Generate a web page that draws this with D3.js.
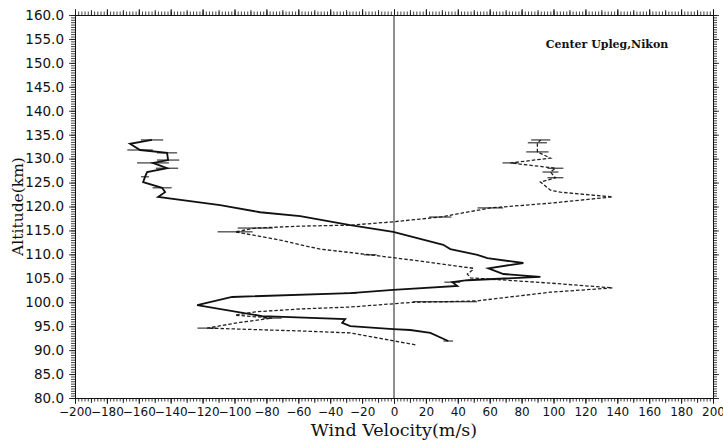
<!DOCTYPE html>
<html><head><meta charset="utf-8">
<script src="https://cdn.jsdelivr.net/npm/d3@7"></script>
<style>body{margin:0;background:#fff}svg{display:block}</style>
</head><body>
<svg id="c" width="723" height="441"></svg>
<script>
// ---- data ----
const xTickValues = d3.range(-200, 201, 20);
const yTickValues = d3.range(80, 160.01, 5);
const annotation = "Center Upleg,Nikon";
const xTitle = "Wind Velocity(m/s)";
const yTitle = "Altitude(km)";

// solid profile (bottom to top)
const solidAlt = [91.9,93.6,94.2,94.4,95.0,95.7,96.5,97.1,99.4,101.1,101.9,102.6,103.4,104.2,104.6,105.3,105.9,107.1,108.2,109.2,109.9,111.1,112.0,113.4,114.7,116.1,118.0,118.8,120.3,122.0,123.0,123.9,125.1,126.2,127.2,128.0,129.1,129.7,131.2,131.8,133.1,133.9];
const solidVel = [34,22.8,10.2,-0.5,-27.4,-32.5,-30.6,-82.7,-123.4,-101.5,-27.4,-0.5,39.7,36.6,46,91.8,68.6,59.2,81.1,58.5,52.3,35.3,30.9,14.6,-0.5,-27.4,-58.8,-83.9,-109,-147.9,-143.5,-145.4,-157.3,-156.1,-154.8,-142.3,-151.1,-141.6,-142.3,-159.2,-165.5,-151.7];
const solidErr = [3,0,0,0,0,0,0,0,0,0,4,0,0,5,0,0,0,0,0,0,0,0,0,0,0,0,0,0,0,0,0,6,0,2.5,0,7,10,7,6.3,8,0,7];

// dashed profile (bottom to top)
const dashAlt = [91.1,93.6,94.0,94.6,95.8,96.7,97.3,98.0,98.6,99.0,100.0,100.1,100.3,102.1,103.0,104.0,105.1,105.9,106.7,107.1,108.6,109.9,110.5,111.1,112.0,113.0,114.7,115.5,115.9,116.1,116.8,117.8,119.7,120.7,122.0,123.0,123.4,125.1,126.0,127.2,128.0,129.1,130.1,131.4,133.3,133.9];
const dashVel = [13.4,-27.4,-58.8,-117.2,-96.5,-76.4,-99.6,-87,-58.8,-27.4,12.1,32,52.3,98.1,137,98.1,47.9,46,49.1,49.7,16.5,-14.9,-30.6,-46.3,-58.8,-71.4,-99.6,-87,-58.8,-27.4,-0.5,29,60.4,98.1,137,104.3,98.1,91.8,101.2,98.1,101.2,73,98.1,89.9,89.9,92];
const dashErr = [0,0,0,6,0,6,0,0,0,0,0,20,0,0,0,0,0,0,0,0,0,4,0,0,0,0,11,11,0,0,0,7,8,0,0,0,0,0,5,5,5,5,0,7,6,6];

// ---- layout ----
const W = 723, H = 441;
const m = {left: 75, right: 10, top: 15, bottom: 43};
const svg = d3.select("#c");
const x = d3.scaleLinear().domain([-200, 200]).range([m.left, W - m.right]);
const y = d3.scaleLinear().domain([80, 160]).range([H - m.bottom, m.top]);
const fmtX = d3.format("d");
const fmtY = d3.format(".1f");
const tickFont = "'DejaVu Sans', sans-serif";

function styleAxis(g, size){
  g.selectAll("path.domain").attr("stroke","#111").attr("stroke-width",1);
  g.selectAll(".tick line").attr("stroke","#111").attr("stroke-width",0.8);
  g.selectAll("text").attr("font-family", tickFont).attr("font-size", size || 12).attr("fill","#111");
}

// minor / mid ticks
const xMinor = d3.range(-200, 201, 2);
const xMid = d3.range(-200, 201, 10);
const yMinor = d3.range(80, 160.01, 0.5);
[[xMinor,3.5],[xMid,5]].forEach(([vals,sz])=>{
  svg.append("g").attr("transform",`translate(0,${H-m.bottom})`)
    .call(d3.axisBottom(x).tickValues(vals).tickSize(sz).tickSizeOuter(0).tickFormat("")).call(styleAxis);
  svg.append("g").attr("transform",`translate(0,${m.top})`)
    .call(d3.axisTop(x).tickValues(vals).tickSize(sz).tickSizeOuter(0).tickFormat("")).call(styleAxis);
});
svg.append("g").attr("transform",`translate(${m.left},0)`)
  .call(d3.axisLeft(y).tickValues(yMinor).tickSize(4).tickSizeOuter(0).tickFormat("")).call(styleAxis);
svg.append("g").attr("transform",`translate(${W-m.right},0)`)
  .call(d3.axisRight(y).tickValues(yMinor).tickSize(4).tickSizeOuter(0).tickFormat("")).call(styleAxis);

// major ticks with labels
svg.append("g").attr("transform",`translate(0,${H-m.bottom})`)
  .call(d3.axisBottom(x).tickValues(xTickValues).tickSize(6).tickSizeOuter(0).tickPadding(3).tickFormat(fmtX))
  .call(g=>styleAxis(g,12));
svg.append("g").attr("transform",`translate(0,${m.top})`)
  .call(d3.axisTop(x).tickValues(xTickValues).tickSize(6).tickSizeOuter(0).tickFormat(""))
  .call(styleAxis);
svg.append("g").attr("transform",`translate(${m.left},0)`)
  .call(d3.axisLeft(y).tickValues(yTickValues).tickSize(6).tickSizeOuter(0).tickPadding(5).tickFormat(fmtY))
  .call(g=>styleAxis(g,13.5));
svg.append("g").attr("transform",`translate(${W-m.right},0)`)
  .call(d3.axisRight(y).tickValues(yTickValues).tickSize(6).tickSizeOuter(0).tickFormat(""))
  .call(styleAxis);

// zero line
svg.append("line").attr("x1",x(0)).attr("x2",x(0)).attr("y1",y(80)).attr("y2",y(160))
  .attr("stroke","#444").attr("stroke-width",1.2);

// profiles
const solid = d3.zip(solidAlt, solidVel, solidErr).map(([a,v,e])=>({a,v,e}));
const dashed = d3.zip(dashAlt, dashVel, dashErr).map(([a,v,e])=>({a,v,e}));
const line = d3.line().x(d=>x(d.v)).y(d=>y(d.a));

svg.append("path").datum(dashed).attr("d",line).attr("fill","none")
  .attr("stroke","#222").attr("stroke-width",1.3).attr("stroke-dasharray","3.5,2");
svg.append("path").datum(solid).attr("d",line).attr("fill","none")
  .attr("stroke","#111").attr("stroke-width",1.8).attr("stroke-linejoin","miter");

function errBars(data){
  svg.append("g").selectAll("line").data(data.filter(d=>d.e>0)).join("line")
    .attr("x1",d=>x(d.v-d.e)).attr("x2",d=>x(d.v+d.e))
    .attr("y1",d=>y(d.a)).attr("y2",d=>y(d.a))
    .attr("stroke","#111").attr("stroke-width",1);
}
errBars(solid); errBars(dashed);

// titles
svg.append("text").attr("x", x(0)).attr("y", 436).attr("text-anchor","middle")
  .attr("font-family","'DejaVu Serif', serif").attr("font-size",17.5).attr("fill","#111").text(xTitle);
svg.append("text").attr("transform",`translate(23,${(y(80)+y(160))/2}) rotate(-90)`).attr("text-anchor","middle")
  .attr("font-family","'DejaVu Serif', serif").attr("font-size",15.5).attr("fill","#111").text(yTitle);
svg.append("text").attr("x", 607).attr("y", 48).attr("text-anchor","middle")
  .attr("font-family","'DejaVu Serif', serif").attr("font-size",11).attr("font-weight","bold").attr("fill","#111").text(annotation);
</script>
</body></html>
